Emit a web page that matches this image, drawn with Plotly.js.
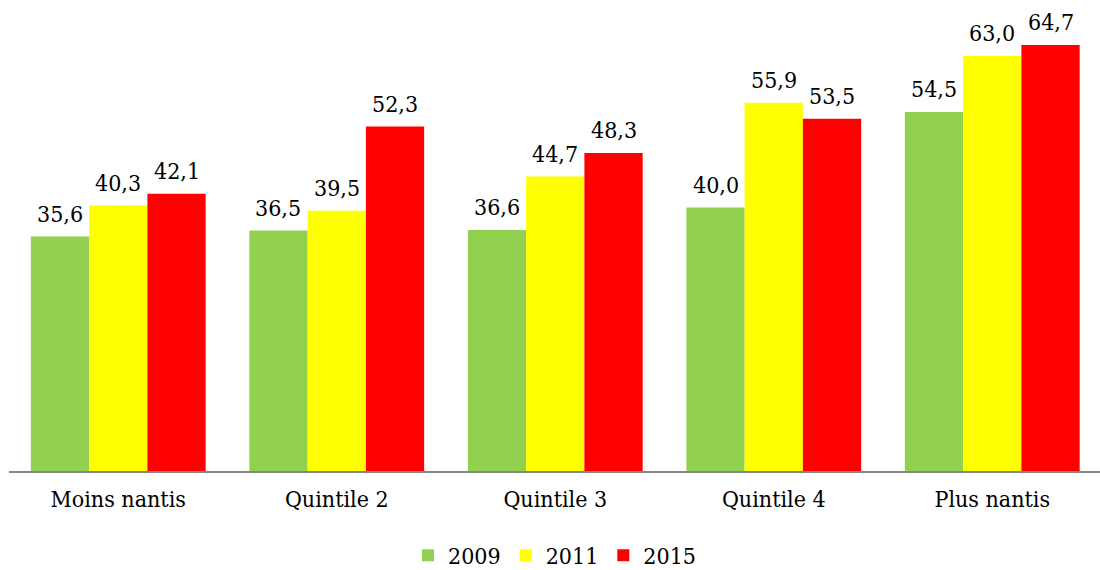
<!DOCTYPE html>
<html>
<head>
<meta charset="utf-8">
<script src="https://cdn.plot.ly/plotly-3.0.1.min.js"></script>
<style>
  html, body { margin: 0; padding: 0; overflow: hidden; background: #fff; }
  #chart { width: 1100px; height: 570px; }
</style>
</head>
<body>
<div id="chart"></div>
<script>
// Quintiles de niveau de vie
const categories = ['Moins nantis', 'Quintile 2', 'Quintile 3', 'Quintile 4', 'Plus nantis'];
const years = ['2009', '2011', '2015'];
const values2009 = [35.6, 36.5, 36.6, 40.0, 54.5];
const values2011 = [40.3, 39.5, 44.7, 55.9, 63.0];
const values2015 = [42.1, 52.3, 48.3, 53.5, 64.7];
const colors = ['#92D050', '#FFFF00', '#FF0000'];

const series = [values2009, values2011, values2015];

// pick a serif face: the condensed cut if present, else the regular one
function hasFont(name) {
  const ctx = document.createElement('canvas').getContext('2d');
  const sample = 'Moins nantis 0123456789';
  ctx.font = '40px monospace';
  const base = ctx.measureText(sample).width;
  ctx.font = '40px "' + name + '", monospace';
  return Math.abs(ctx.measureText(sample).width - base) > 0.5;
}
const condensed = hasFont('DejaVu Serif Condensed');
const font = condensed ? 'DejaVu Serif Condensed' : 'DejaVu Serif';
const fontSize = condensed ? 23 : 21;

const W = 1100, H = 570;
const margin = { l: 9, r: 0, t: 10, b: 99, autoexpand: false };
const bargap = 0.2;
const xRange = [-0.5, 4.493];
const plotW = W - margin.l - margin.r;
const catPx = plotW / (xRange[1] - xRange[0]);
const barPx = catPx * (1 - bargap) / series.length;

const traces = series.map((vals, i) => ({
  type: 'bar',
  name: years[i],
  x: categories,
  y: vals,
  marker: { color: colors[i], line: { width: 0 } },
  hoverinfo: 'skip'
}));

// value labels above each bar, with decimal comma
const annotations = [];
series.forEach((vals, i) => {
  vals.forEach((v, j) => {
    annotations.push({
      x: categories[j],
      y: v,
      xref: 'x', yref: 'y',
      text: v.toFixed(1).replace('.', ','),
      showarrow: false,
      xanchor: 'center', yanchor: 'bottom',
      xshift: (i - (series.length - 1) / 2) * barPx,
      yshift: 8,
      font: { family: font, size: fontSize, color: '#000' }
    });
  });
});

const layout = {
  width: W, height: H,
  margin: margin,
  font: { family: font, size: fontSize, color: '#000' },
  paper_bgcolor: '#fff',
  plot_bgcolor: '#fff',
  barmode: 'group',
  bargap: bargap,
  bargroupgap: 0,
  showlegend: true,
  legend: {
    orientation: 'h',
    x: 0.5, xanchor: 'center',
    yref: 'container',
    y: 0.026, yanchor: 'middle',
    font: { family: font, size: fontSize, color: '#000' },
    itemclick: false, itemdoubleclick: false
  },
  xaxis: {
    type: 'category',
    range: xRange,
    showline: true,
    linecolor: '#868686',
    linewidth: 2,
    ticks: '',
    showgrid: false,
    zeroline: false,
    automargin: false,
    tickfont: { family: font, size: fontSize, color: '#000' },
    ticklabelstandoff: 6
  },
  yaxis: {
    range: [0, 70],
    visible: false,
    showgrid: false,
    zeroline: false
  },
  annotations: annotations
};

Plotly.newPlot('chart', traces, layout, { staticPlot: true, displayModeBar: false });
</script>
</body>
</html>
